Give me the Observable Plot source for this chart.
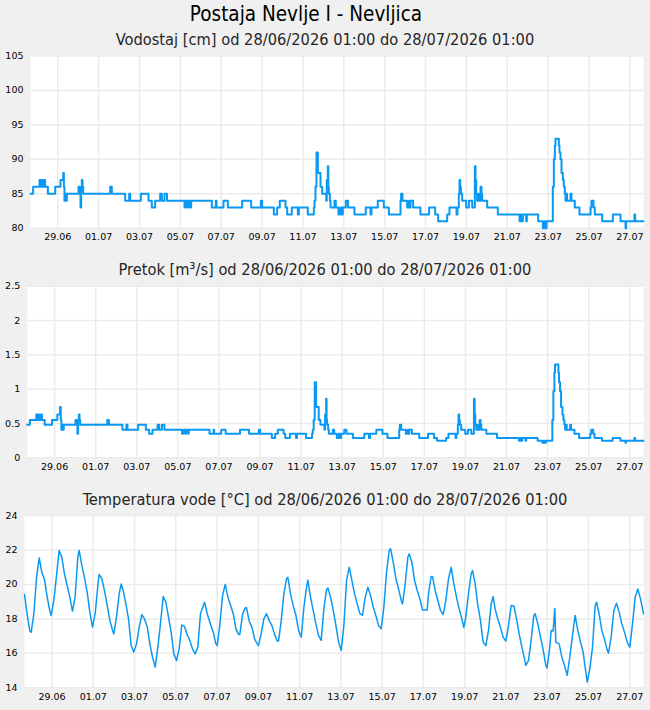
<!DOCTYPE html>
<html><head><meta charset="utf-8">
<script src="https://cdn.jsdelivr.net/npm/d3@7"></script>
<script src="https://cdn.jsdelivr.net/npm/@observablehq/plot@0.6"></script>
<style>
html,body{margin:0;padding:0;background:#f0f0f0;}
body{width:650px;height:710px;overflow:hidden;font-family:"DejaVu Sans",sans-serif;}
.title{height:28px;line-height:28px;text-align:center;padding-right:38px;font-size:20.5px;font-family:"DejaVu Sans Condensed","DejaVu Sans",sans-serif;color:#000;white-space:nowrap;}
.sub{height:24px;line-height:24px;text-align:center;font-size:16.3px;font-family:"DejaVu Sans Condensed","DejaVu Sans",sans-serif;font-weight:200;color:#262626;white-space:nowrap;}
svg{display:block}
</style></head><body>
<div class="title">Postaja Nevlje I - Nevljica</div>
<div class="sub" id="s1"></div><div id="c1"></div>
<div class="sub" id="s2"></div><div id="c2"></div>
<div class="sub" id="s3"></div><div id="c3"></div>
<script>
// Titles
const subtitles = [
  "Vodostaj [cm] od 28/06/2026 01:00 do 28/07/2026 01:00",
  "Pretok [m³/s] od 28/06/2026 01:00 do 28/07/2026 01:00",
  "Temperatura vode [°C] od 28/06/2026 01:00 do 28/07/2026 01:00"
];
// x axis: hours since 28/06/2026 01:00
const xTickHours = [32, 80, 128, 176, 224, 272, 320, 368, 416, 464, 512, 560, 608, 656, 704];
const xTickLabels = ["29.06","01.07","03.07","05.07","07.07","09.07","11.07","13.07","15.07","17.07","19.07","21.07","23.07","25.07","27.07"];
const levelTicks = [80, 85, 90, 95, 100, 105];
const flowTicks = [0, 0.5, 1, 1.5, 2, 2.5];
const tempTicks = [14, 16, 18, 20, 22, 24];

// Water level / flow change points (hours, value)
const levelHours = [0,3.1,10.6,11.7,13.3,14.1,16.4,17.2,20.4,29.0,35.2,38.4,39.2,39.9,40.7,41.9,42.7,56.4,57.5,58.7,59.5,60.3,61.1,61.9,93.6,95.5,111.2,115.9,117.1,129.6,138.6,142.5,146.4,152.3,154.3,157.4,160.3,180.9,182.5,184.8,185.6,188.0,188.7,213.0,217.7,218.5,226.7,231.8,248.6,259.2,270.5,272.1,285.8,289.7,292.8,299.5,301.5,306.9,314.0,315.2,325.7,332.8,333.6,334.7,335.9,337.5,340.6,342.6,347.3,348.0,349.2,349.8,350.4,351.6,352.4,357.0,358.6,361.7,364.1,366.0,366.8,370.4,373.0,380.5,393.8,399.3,400.5,407.9,415.0,420.9,434.6,435.3,436.9,442.4,444.7,445.5,446.3,449.4,458.0,468.2,475.3,478.8,489.4,492.1,500.4,501.5,503.1,503.9,504.7,505.5,507.0,511.7,514.9,518.8,521.9,522.7,523.5,524.6,525.8,526.6,528.6,529.7,530.5,536.4,548.9,574.4,575.5,576.7,578.3,582.2,583.0,596.3,601.8,603.3,604.9,606.1,613.5,614.7,615.9,616.6,620.6,621.3,622.5,623.7,625.3,626.4,627.6,628.4,629.6,630.3,634.3,635.4,639.3,644.8,657.8,658.9,661.3,662.8,671.5,684.0,693.0,698.9,699.6,709.4,710.2,720];
const levelValues = [85,86,87,86,87,86,87,86,85,86,87,88,86,84,85,84,85,86,85,83,86,87,86,85,86,85,84,85,84,85,84,83,84,85,84,85,84,83,84,83,84,83,84,83,84,83,84,83,84,83,84,83,82,83,84,83,82,83,82,83,82,83,84,86,91,88,86,85,84,87,89,86,85,84,83,84,83,82,83,82,83,84,83,82,83,82,83,84,83,82,84,85,84,83,84,83,84,83,82,83,82,81,82,83,82,83,85,87,86,85,84,83,84,83,89,87,85,84,85,84,86,85,84,83,82,81,82,81,82,81,82,81,80,81,80,81,86,90,92,93,92,91,90,88,87,86,85,84,85,84,85,84,83,82,83,84,83,82,81,82,81,80,81,82,81,81];
const flowValues = [0.48,0.55,0.63,0.55,0.63,0.55,0.63,0.55,0.48,0.55,0.63,0.74,0.55,0.41,0.48,0.41,0.48,0.55,0.48,0.35,0.55,0.63,0.55,0.48,0.55,0.48,0.41,0.48,0.41,0.48,0.41,0.35,0.41,0.48,0.41,0.48,0.41,0.35,0.41,0.35,0.41,0.35,0.41,0.35,0.41,0.35,0.41,0.35,0.41,0.35,0.41,0.35,0.29,0.35,0.41,0.35,0.29,0.35,0.29,0.35,0.29,0.35,0.41,0.55,1.10,0.74,0.55,0.48,0.41,0.63,0.86,0.55,0.48,0.41,0.35,0.41,0.35,0.29,0.35,0.29,0.35,0.41,0.35,0.29,0.35,0.29,0.35,0.41,0.35,0.29,0.41,0.48,0.41,0.35,0.41,0.35,0.41,0.35,0.29,0.35,0.29,0.25,0.29,0.35,0.29,0.35,0.48,0.63,0.55,0.48,0.41,0.35,0.41,0.35,0.86,0.63,0.48,0.41,0.48,0.41,0.55,0.48,0.41,0.35,0.29,0.25,0.29,0.25,0.29,0.25,0.29,0.25,0.22,0.25,0.22,0.25,0.55,0.97,1.24,1.36,1.24,1.10,0.97,0.74,0.63,0.55,0.48,0.41,0.48,0.41,0.48,0.41,0.35,0.29,0.35,0.41,0.35,0.29,0.25,0.29,0.25,0.22,0.25,0.29,0.25,0.25];

// Water temperature (hours, °C)
const tempHours = [0,3.1,6.2,7.8,10.9,14.0,17.1,20.2,23.3,26.4,29.5,31.0,34.1,37.2,40.3,43.4,46.5,49.6,52.7,55.8,58.9,62.0,63.6,66.7,69.8,72.9,76.0,79.1,82.2,85.3,86.8,89.9,93.0,96.2,99.3,102.4,103.9,107.0,110.1,112.4,114.8,117.9,121.0,124.1,127.2,130.3,133.4,136.5,139.6,142.7,145.8,148.9,152.0,155.1,158.2,161.3,164.4,167.5,170.6,173.7,176.8,179.9,183.0,186.1,189.2,192.3,195.4,198.5,201.6,204.7,209.4,212.5,215.6,219.5,222.6,224.2,227.3,230.4,233.5,236.6,239.7,242.8,245.9,249.0,250.5,253.6,256.7,258.3,261.4,264.5,267.6,270.7,272.2,275.3,278.4,281.5,284.6,287.7,290.8,293.9,295.5,298.6,301.7,304.8,306.3,309.4,312.5,315.7,318.8,321.9,325.0,328.1,329.6,332.7,335.8,338.9,342.0,345.1,348.2,351.3,352.9,356.0,359.1,362.2,365.3,368.4,371.5,374.6,377.7,380.8,383.9,387.0,390.1,393.2,396.3,399.4,402.5,405.6,408.7,411.8,414.9,418.0,421.1,424.2,425.8,428.9,432.0,435.1,438.2,439.7,442.8,445.9,447.5,450.6,453.7,456.8,459.9,463.0,465.3,468.4,469.9,473.0,474.6,477.7,480.8,483.9,487.0,490.1,493.2,496.3,499.4,502.5,505.6,508.7,511.0,513.3,516.4,519.5,521.1,524.2,527.3,530.4,533.5,536.6,539.7,542.8,545.1,547.4,550.5,553.6,556.7,559.9,563.0,566.1,569.2,572.3,575.4,578.5,581.6,583.1,586.2,589.3,592.4,594.0,597.1,600.2,603.3,606.4,607.9,611.0,612.6,614.9,616.8,618.0,621.9,625.0,628.1,631.2,634.3,637.4,640.5,643.6,646.7,649.8,652.9,654.5,657.6,660.7,663.8,665.3,668.4,671.5,674.6,677.7,679.3,682.4,685.5,688.6,691.7,694.8,697.9,701.0,704.1,707.2,710.3,713.4,716.5,720];
const tempValues = [19.42,18.25,17.3,17.23,18.3,20.4,21.54,20.7,20.27,19.26,18.45,18.2,19.07,20.5,21.97,21.58,20.6,19.94,19.26,18.45,19.26,21.58,21.97,21.1,20.38,19.55,18.39,17.52,18.3,19.94,20.58,20.33,19.65,18.78,17.9,17.33,17.13,18.1,19.45,20.02,19.65,18.87,18.0,16.46,16.07,16.55,17.52,18.25,18.0,17.56,16.55,15.78,15.2,16.36,17.75,19.3,18.97,18.1,17.23,15.97,15.58,16.26,17.65,17.56,17.08,16.75,16.26,15.97,16.36,18.3,18.97,18.3,17.81,17.23,16.55,16.46,17.71,19.36,20.0,19.26,18.78,18.3,17.42,17.1,17.1,18.25,18.64,18.64,17.85,17.52,16.84,16.55,16.46,17.13,18.0,18.3,17.9,17.62,17.13,16.71,16.71,17.9,19.45,20.33,20.42,19.45,18.78,18.2,17.33,16.94,18.68,19.84,20.25,19.26,18.49,17.71,17.04,16.75,18.58,19.69,19.8,19.26,18.49,17.62,16.65,16.17,17.62,20.23,21.0,20.23,19.45,18.87,18.3,18.2,19.26,19.84,19.36,18.68,18.2,17.62,17.42,18.68,20.71,21.97,22.07,21.29,20.33,19.74,19.07,18.87,20.03,21.58,21.78,21.29,20.23,19.65,19.16,18.52,18.52,18.52,19.45,20.46,20.45,19.65,19.07,18.49,18.25,19.07,20.33,21.0,20.03,19.26,18.58,18.0,17.5,18.1,19.45,20.62,20.81,20.03,18.78,17.9,16.65,16.45,17.33,18.87,19.3,18.58,18.0,17.52,16.94,16.71,17.62,18.78,18.75,18.0,17.13,16.36,15.68,15.3,15.58,16.75,18.2,18.3,17.71,16.94,16.2,15.3,15.15,16.36,17.33,17.3,18.6,16.65,16.55,15.78,15.3,14.72,15.78,17.04,18.2,17.33,16.65,16.07,14.91,14.33,15.1,16.36,18.78,18.97,18.3,17.33,16.84,16.2,16.01,16.94,18.49,18.91,18.39,17.71,17.23,16.65,16.36,17.71,19.26,19.74,19.16,18.3];

const lineColor = "#0a99f2";
const gridColor = "#ebebeb";
const labelByHour = new Map(xTickHours.map((h, i) => [h, xTickLabels[i]]));

function panel({hours, values, ticks, domain, marginLeft, marginTop, marginBottom, height, strokeWidth, curve}) {
  const data = hours.map((h, i) => ({h, v: values[i]}));
  return Plot.plot({
    width: 650, height, marginLeft, marginRight: 7, marginTop, marginBottom,
    style: {fontFamily: "DejaVu Sans", fontSize: "9.5px", color: "#000", background: "transparent", overflow: "visible"},
    x: {domain: [0, 720], axis: null},
    y: {domain, axis: null},
    marks: [
      Plot.frame({fill: "white", stroke: null}),
      Plot.gridX(xTickHours, {stroke: gridColor, strokeOpacity: 1, strokeWidth: 1.5}),
      Plot.gridY(ticks, {stroke: gridColor, strokeOpacity: 1, strokeWidth: 1.5}),
      Plot.axisX(xTickHours, {tickSize: 0, tickPadding: 5, label: null, tickFormat: d => labelByHour.get(d)}),
      Plot.axisY(ticks, {tickSize: 0, tickPadding: 7, label: null, tickFormat: d => String(d)}),
      Plot.line(data, {x: "h", y: "v", curve, stroke: lineColor, strokeWidth})
    ]
  });
}

document.getElementById("s1").textContent = subtitles[0];
document.getElementById("s2").textContent = subtitles[1];
document.getElementById("s3").textContent = subtitles[2];

document.getElementById("c1").append(panel({hours: levelHours, values: levelValues, ticks: levelTicks, domain: [80, 105], marginLeft: 30, marginTop: 3.5, marginBottom: 30.3, height: 206, strokeWidth: 2, curve: "step-after"}));
document.getElementById("c2").append(panel({hours: levelHours, values: flowValues, ticks: flowTicks, domain: [0, 2.5], marginLeft: 26.7, marginTop: 3.7, marginBottom: 30.7, height: 206, strokeWidth: 2, curve: "step-after"}));
document.getElementById("c3").append(panel({hours: tempHours, values: tempValues, ticks: tempTicks, domain: [14, 24], marginLeft: 24, marginTop: 3, marginBottom: 22.7, height: 198, strokeWidth: 1.5, curve: "linear"}));
</script>
</body></html>
